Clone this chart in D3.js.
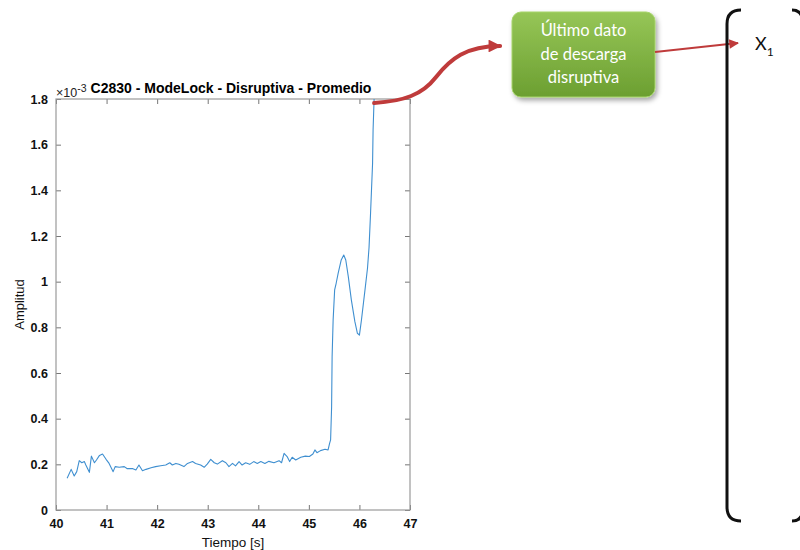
<!DOCTYPE html>
<html>
<head>
<meta charset="utf-8">
<script src="https://cdn.jsdelivr.net/npm/d3@7"></script>
<style>
  html, body { margin: 0; padding: 0; background: #fff; }
  svg { display: block; }
</style>
</head>
<body>
<svg id="fig" width="800" height="550"></svg>
<script>
// Averaged mode-lock signal of discharge C2830 (amplitude in units of 1e-3)
const tiempo = [
  40.22, 40.30, 40.36, 40.41, 40.46, 40.51, 40.56, 40.59, 40.66, 40.70,
  40.76, 40.80, 40.86, 40.92, 40.99, 41.05, 41.13, 41.17, 41.25, 41.35,
  41.41, 41.51, 41.58, 41.64, 41.71, 41.78, 41.88, 41.97, 42.07, 42.17,
  42.25, 42.30, 42.37, 42.43, 42.53, 42.60, 42.70, 42.76, 42.86, 42.93,
  42.99, 43.06, 43.13, 43.19, 43.29, 43.36, 43.42, 43.49, 43.55, 43.62,
  43.68, 43.75, 43.83, 43.91, 43.98, 44.05, 44.13, 44.21, 44.31, 44.41,
  44.46, 44.51, 44.57, 44.62, 44.67, 44.74, 44.84, 44.93, 45.01, 45.08,
  45.12, 45.16, 45.23, 45.32, 45.38, 45.41, 45.43, 45.45, 45.46, 45.48,
  45.51, 45.54, 45.58, 45.64, 45.69, 45.73, 45.78, 45.84, 45.91, 45.96,
  46.00, 46.04, 46.11, 46.16, 46.19, 46.22, 46.26, 46.27, 46.29
];
const amplitud = [
  0.139, 0.178, 0.149, 0.168, 0.216, 0.207, 0.212, 0.197, 0.165, 0.236,
  0.207, 0.219, 0.239, 0.245, 0.222, 0.204, 0.168, 0.190, 0.187, 0.190,
  0.181, 0.182, 0.175, 0.197, 0.172, 0.178, 0.185, 0.190, 0.194, 0.197,
  0.207, 0.197, 0.204, 0.200, 0.190, 0.204, 0.212, 0.204, 0.197, 0.187,
  0.201, 0.222, 0.207, 0.201, 0.216, 0.207, 0.190, 0.204, 0.193, 0.212,
  0.197, 0.207, 0.200, 0.212, 0.204, 0.212, 0.204, 0.213, 0.207, 0.216,
  0.207, 0.248, 0.234, 0.212, 0.231, 0.219, 0.231, 0.236, 0.234, 0.245,
  0.263, 0.251, 0.260, 0.266, 0.263, 0.292, 0.307, 0.452, 0.672, 0.832,
  0.964, 0.993, 1.037, 1.095, 1.117, 1.095, 1.022, 0.920, 0.825, 0.774,
  0.766, 0.832, 0.964, 1.060, 1.150, 1.300, 1.519, 1.664, 1.800
];
const xTicks = [40, 41, 42, 43, 44, 45, 46, 47];
const yTicks = [0, 0.2, 0.4, 0.6, 0.8, 1, 1.2, 1.4, 1.6, 1.8];
const titulo = "C2830 - ModeLock - Disruptiva - Promedio";
const etiquetaX = "Tiempo [s]";
const etiquetaY = "Amplitud";
const cajaLineas = ["Último dato", "de descarga", "disruptiva"];

const svg = d3.select("#fig");
const plot = { left: 56, right: 410, top: 99, bottom: 510 };

const x = d3.scaleLinear().domain([40, 47]).range([plot.left, plot.right]);
const y = d3.scaleLinear().domain([0, 1.8]).range([plot.bottom, plot.top]);

const defs = svg.append("defs");
defs.append("clipPath").attr("id", "plotClip")
  .append("rect")
  .attr("x", plot.left).attr("y", plot.top)
  .attr("width", plot.right - plot.left).attr("height", plot.bottom - plot.top);

const grad = defs.append("linearGradient").attr("id", "boxGrad")
  .attr("x1", 0).attr("y1", 0).attr("x2", 0).attr("y2", 1);
grad.append("stop").attr("offset", "0%").attr("stop-color", "#96c657");
grad.append("stop").attr("offset", "100%").attr("stop-color", "#6c9f31");

const shadow = defs.append("filter").attr("id", "boxShadow")
  .attr("x", "-20%").attr("y", "-20%").attr("width", "150%").attr("height", "150%");
shadow.append("feDropShadow")
  .attr("dx", 2).attr("dy", 3).attr("stdDeviation", 2.5)
  .attr("flood-color", "#000").attr("flood-opacity", 0.35);

defs.append("marker").attr("id", "headBig")
  .attr("viewBox", "0 0 10 10").attr("refX", 9).attr("refY", 5)
  .attr("markerWidth", 3.6).attr("markerHeight", 3.2)
  .attr("markerUnits", "strokeWidth").attr("orient", "auto")
  .append("path").attr("d", "M0,0 L10,5 L0,10 Z").attr("fill", "#bf3b3b");

defs.append("marker").attr("id", "headSmall")
  .attr("viewBox", "0 0 10 10").attr("refX", 9).attr("refY", 5)
  .attr("markerWidth", 5).attr("markerHeight", 4.4)
  .attr("markerUnits", "strokeWidth").attr("orient", "auto")
  .append("path").attr("d", "M0,0 L10,5 L0,10 Z").attr("fill", "#bf3b3b");

const font = "'Liberation Sans', Arial, Helvetica, sans-serif";
const axisColor = "#9a9a9a";

// Axes with inward ticks on all four sides
const axBottom = d3.axisBottom(x).tickValues(xTicks).tickSize(-5).tickPadding(9).tickFormat(d3.format("d"));
const axTop = d3.axisTop(x).tickValues(xTicks).tickSize(-5).tickFormat("");
const axLeft = d3.axisLeft(y).tickValues(yTicks).tickSize(-5).tickPadding(8).tickFormat(d => d === 0 || d === 1 ? d3.format("d")(d) : d3.format(".1f")(d));
const axRight = d3.axisRight(y).tickValues(yTicks).tickSize(-5).tickFormat("");

function styleAxis(g) {
  g.select(".domain").remove();
  g.selectAll(".tick line").attr("stroke", "#777").attr("stroke-width", 1);
  g.selectAll(".tick text")
    .attr("fill", "#111").attr("font-family", font)
    .attr("font-size", 12.5).attr("font-weight", "bold");
}

svg.append("g").attr("transform", `translate(0,${plot.bottom})`).call(axBottom).call(styleAxis);
svg.append("g").attr("transform", `translate(0,${plot.top})`).call(axTop).call(styleAxis);
svg.append("g").attr("transform", `translate(${plot.left},0)`).call(axLeft).call(styleAxis);
svg.append("g").attr("transform", `translate(${plot.right},0)`).call(axRight).call(styleAxis);

// Axes box
svg.append("rect")
  .attr("x", plot.left).attr("y", plot.top)
  .attr("width", plot.right - plot.left).attr("height", plot.bottom - plot.top)
  .attr("fill", "none").attr("stroke", axisColor).attr("stroke-width", 1.2);

// Signal trace
const line = d3.line().x((d, i) => x(tiempo[i])).y(d => y(d));
svg.append("path")
  .datum(amplitud)
  .attr("clip-path", "url(#plotClip)")
  .attr("d", line)
  .attr("fill", "none")
  .attr("stroke", "#3f8fd0")
  .attr("stroke-width", 1.1)
  .attr("stroke-linejoin", "round");

// Title and exponent
svg.append("text")
  .attr("x", 231).attr("y", 93)
  .attr("text-anchor", "middle")
  .attr("font-family", font).attr("font-size", 14).attr("font-weight", "bold")
  .attr("fill", "#000").text(titulo);

const exp = svg.append("text")
  .attr("x", 56).attr("y", 97)
  .attr("font-family", font).attr("font-size", 12.5).attr("fill", "#222");
exp.append("tspan").text("×10");
exp.append("tspan").attr("dy", -5).attr("font-size", 10.5).text("-3");

// Axis labels
svg.append("text")
  .attr("x", (plot.left + plot.right) / 2).attr("y", 547)
  .attr("text-anchor", "middle")
  .attr("font-family", font).attr("font-size", 13.5).attr("fill", "#111")
  .text(etiquetaX);

svg.append("text")
  .attr("transform", `translate(24,${(plot.top + plot.bottom) / 2}) rotate(-90)`)
  .attr("text-anchor", "middle")
  .attr("font-family", font).attr("font-size", 13).attr("fill", "#111")
  .text(etiquetaY);

// Callout arrow from the last sample to the box
const lastT = tiempo[tiempo.length - 1];
const x0 = x(lastT), y0 = y(amplitud[amplitud.length - 1]) + 4;
svg.append("path")
  .attr("d", `M${x0},${y0} C${x0 + 30},${y0 - 2} ${x0 + 48},${y0 - 8} ${x0 + 62},${y0 - 26} C${x0 + 76},${y0 - 44} ${x0 + 92},${y0 - 57} ${x0 + 126},${y0 - 57}`)
  .attr("fill", "none")
  .attr("stroke", "#bf3b3b")
  .attr("stroke-width", 4)
  .attr("stroke-linecap", "round")
  .attr("marker-end", "url(#headBig)");

// Green callout box
const box = { x: 512, y: 12, w: 143, h: 85 };
svg.append("rect")
  .attr("x", box.x).attr("y", box.y).attr("width", box.w).attr("height", box.h)
  .attr("rx", 9).attr("ry", 9)
  .attr("fill", "url(#boxGrad)")
  .attr("stroke", "#a6d46a").attr("stroke-width", 1)
  .attr("filter", "url(#boxShadow)");

svg.append("g").selectAll("text")
  .data(cajaLineas).join("text")
  .attr("x", box.x + box.w / 2)
  .attr("y", (d, i) => 36 + i * 23.5)
  .attr("text-anchor", "middle")
  .attr("font-family", "Lato, 'Open Sans', sans-serif")
  .attr("font-size", 16.5)
  .attr("fill", "#fff")
  .text(d => d);

// Arrow from box to the vector entry
svg.append("path")
  .attr("d", `M${box.x + box.w},52 L738,43`)
  .attr("stroke", "#bf3b3b").attr("stroke-width", 2.2)
  .attr("marker-end", "url(#headSmall)");

// Vector brackets
svg.append("path")
  .attr("d", "M741,10 Q727,10 727,24 L727,507 Q727,521 741,521")
  .attr("fill", "none").attr("stroke", "#111").attr("stroke-width", 3);
svg.append("path")
  .attr("d", "M792,521 Q803,521 803,508 L803,24 Q803,10 792,10")
  .attr("fill", "none").attr("stroke", "#111").attr("stroke-width", 3);

// Vector element label
const xl = svg.append("text")
  .attr("x", 755).attr("y", 50)
  .attr("font-family", "Lato, 'Open Sans', sans-serif")
  .attr("font-size", 18).attr("fill", "#111");
xl.append("tspan").text("X");
xl.append("tspan").attr("dy", 6).attr("font-size", 12).text("1");
</script>
</body>
</html>
